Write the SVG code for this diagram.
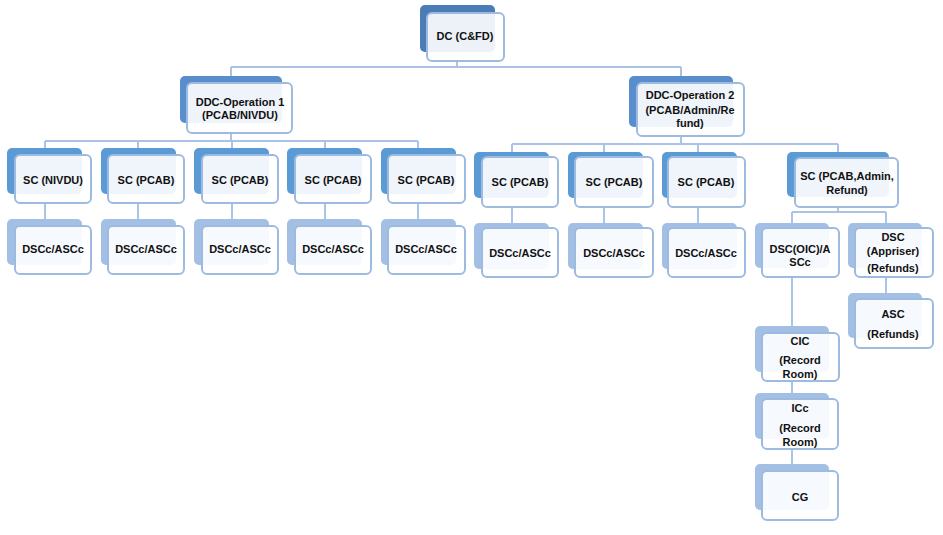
<svg xmlns="http://www.w3.org/2000/svg" width="943" height="535" viewBox="0 0 943 535">
<style>
.bg{fill:#ffffff}
.b1{fill:#4a7db8}
.b2{fill:#5a8dcb}
.b3{fill:#5b9bd5}
.b4{fill:#a3c0e4}
.f{fill:#ffffff;fill-opacity:0.9;stroke:#9dbbe0;stroke-width:2}
.c{fill:none;stroke:#a9c4e6;stroke-width:2}
text{font-family:"Liberation Sans",Arial,sans-serif;font-weight:bold;font-size:11px;fill:#111111;text-anchor:middle}
</style>
<rect class="bg" x="0" y="0" width="943" height="535"/>
<g id="connectors">
<path class="c" d="M457 61V67M231 67H681M231 67V76M681 67V76"/>
<path class="c" d="M231 133V141M45 141H418M45 141V148M138 141V148M232 141V148M325 141V148M418 141V148"/>
<path class="c" d="M45 203V219M138 203V219M232 203V219M325 203V219M418 203V219"/>
<path class="c" d="M681 136V144M512 144H838M512 144V152M604 144V152M698 144V152M838 144V152"/>
<path class="c" d="M512 207V223M604 207V223M698 207V223"/>
<path class="c" d="M838 207V212M792 212H886M792 212V223M886 212V223"/>
<path class="c" d="M886 277V293M792 277V326M792 381V393M792 449V464"/>
</g>
<g id="dc"><rect class="b1" x="420" y="5" width="75" height="47" rx="5"/><rect class="f" x="427" y="13" width="77" height="48" rx="5"/><text x="465" y="40">DC (C&amp;FD)</text></g>
<g id="ddc1"><rect class="b2" x="180" y="76" width="102" height="47" rx="5"/><rect class="f" x="187" y="83" width="105" height="50" rx="5"/><text x="240" y="106">DDC-Operation 1</text><text x="240" y="119">(PCAB/NIVDU)</text></g>
<g id="ddc2"><rect class="b2" x="629" y="76" width="104" height="51" rx="5"/><rect class="f" x="637" y="83" width="107" height="53" rx="5"/><text x="690" y="99">DDC-Operation 2</text><text x="690" y="114">(PCAB/Admin/Re</text><text x="690" y="127">fund)</text></g>
<g id="sc1"><rect class="b3" x="7" y="148" width="75" height="46" rx="5"/><rect class="f" x="15" y="155" width="76" height="48" rx="5"/><text x="53" y="184">SC (NIVDU)</text></g>
<g id="sc2"><rect class="b3" x="101" y="148" width="75" height="46" rx="5"/><rect class="f" x="108" y="155" width="76" height="48" rx="5"/><text x="146" y="184">SC (PCAB)</text></g>
<g id="sc3"><rect class="b3" x="194" y="148" width="75" height="46" rx="5"/><rect class="f" x="202" y="155" width="76" height="48" rx="5"/><text x="240" y="184">SC (PCAB)</text></g>
<g id="sc4"><rect class="b3" x="287" y="148" width="75" height="46" rx="5"/><rect class="f" x="295" y="155" width="76" height="48" rx="5"/><text x="333" y="184">SC (PCAB)</text></g>
<g id="sc5"><rect class="b3" x="381" y="148" width="75" height="46" rx="5"/><rect class="f" x="388" y="155" width="77" height="48" rx="5"/><text x="426" y="184">SC (PCAB)</text></g>
<g id="dsc1"><rect class="b4" x="7" y="219" width="75" height="46" rx="5"/><rect class="f" x="15" y="226" width="76" height="48" rx="5"/><text x="53" y="253">DSCc/ASCc</text></g>
<g id="dsc2"><rect class="b4" x="101" y="219" width="75" height="46" rx="5"/><rect class="f" x="108" y="226" width="76" height="48" rx="5"/><text x="146" y="253">DSCc/ASCc</text></g>
<g id="dsc3"><rect class="b4" x="194" y="219" width="75" height="46" rx="5"/><rect class="f" x="202" y="226" width="76" height="48" rx="5"/><text x="240" y="253">DSCc/ASCc</text></g>
<g id="dsc4"><rect class="b4" x="287" y="219" width="75" height="46" rx="5"/><rect class="f" x="295" y="226" width="76" height="48" rx="5"/><text x="333" y="253">DSCc/ASCc</text></g>
<g id="dsc5"><rect class="b4" x="381" y="219" width="75" height="46" rx="5"/><rect class="f" x="388" y="226" width="77" height="48" rx="5"/><text x="426" y="253">DSCc/ASCc</text></g>
<g id="sc6"><rect class="b3" x="474" y="152" width="75" height="46" rx="5"/><rect class="f" x="482" y="157" width="76" height="50" rx="5"/><text x="520" y="186">SC (PCAB)</text></g>
<g id="sc7"><rect class="b3" x="568" y="152" width="75" height="46" rx="5"/><rect class="f" x="575" y="157" width="78" height="50" rx="5"/><text x="614" y="186">SC (PCAB)</text></g>
<g id="sc8"><rect class="b3" x="662" y="152" width="75" height="46" rx="5"/><rect class="f" x="668" y="157" width="77" height="50" rx="5"/><text x="706" y="186">SC (PCAB)</text></g>
<g id="dsc6"><rect class="b4" x="474" y="223" width="75" height="46" rx="5"/><rect class="f" x="482" y="228" width="76" height="49" rx="5"/><text x="520" y="257">DSCc/ASCc</text></g>
<g id="dsc7"><rect class="b4" x="568" y="223" width="75" height="46" rx="5"/><rect class="f" x="575" y="228" width="78" height="49" rx="5"/><text x="614" y="257">DSCc/ASCc</text></g>
<g id="dsc8"><rect class="b4" x="662" y="223" width="75" height="46" rx="5"/><rect class="f" x="668" y="228" width="77" height="49" rx="5"/><text x="706" y="257">DSCc/ASCc</text></g>
<g id="sc9"><rect class="b3" x="787" y="152" width="102" height="45" rx="5"/><rect class="f" x="795" y="158" width="103" height="49" rx="5"/><text x="847" y="180">SC (PCAB,Admin,</text><text x="847" y="194">Refund)</text></g>
<g id="dscoic"><rect class="b4" x="755" y="223" width="74" height="45" rx="5"/><rect class="f" x="762" y="228" width="77" height="49" rx="5"/><text x="800" y="253">DSC(OIC)/A</text><text x="800" y="266">SCc</text></g>
<g id="dscapp"><rect class="b4" x="848" y="223" width="74" height="45" rx="5"/><rect class="f" x="855" y="228" width="78" height="49" rx="5"/><text x="893" y="241">DSC</text><text x="893" y="255">(Appriser)</text><text x="893" y="272">(Refunds)</text></g>
<g id="asc"><rect class="b4" x="848" y="293" width="74" height="45" rx="5"/><rect class="f" x="855" y="299" width="78" height="49" rx="5"/><text x="893" y="318">ASC</text><text x="893" y="338">(Refunds)</text></g>
<g id="cic"><rect class="b4" x="755" y="326" width="74" height="46" rx="5"/><rect class="f" x="762" y="333" width="77" height="48" rx="5"/><text x="800" y="345">CIC</text><text x="800" y="364">(Record</text><text x="800" y="378">Room)</text></g>
<g id="icc"><rect class="b4" x="755" y="393" width="74" height="46" rx="5"/><rect class="f" x="762" y="399" width="76" height="50" rx="5"/><text x="800" y="412">ICc</text><text x="800" y="432">(Record</text><text x="800" y="446">Room)</text></g>
<g id="cg"><rect class="b4" x="755" y="464" width="74" height="46" rx="5"/><rect class="f" x="762" y="471" width="76" height="49" rx="5"/><text x="800" y="501">CG</text></g>
</svg>
